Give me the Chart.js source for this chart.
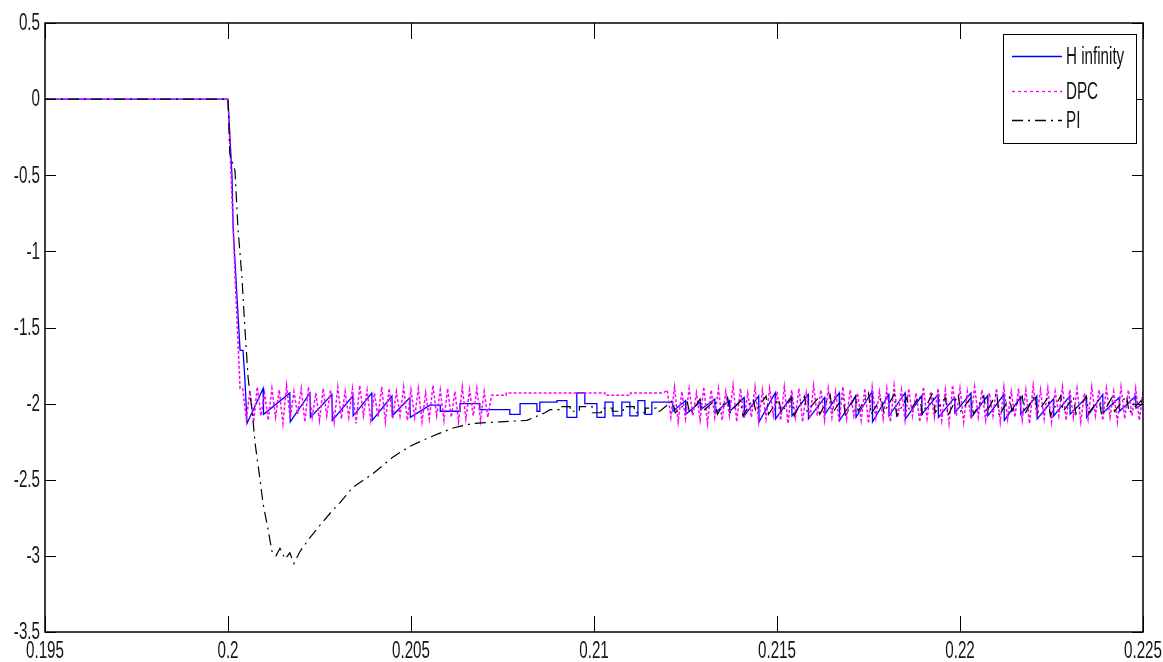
<!DOCTYPE html>
<html>
<head>
<meta charset="utf-8">
<title>H infinity / DPC / PI</title>
<script src="https://cdn.jsdelivr.net/npm/chart.js@4.4.1/dist/chart.umd.min.js"></script>
<style>
  html, body { margin: 0; padding: 0; background: #fff; }
  #wrap { width: 1163px; height: 662px; }
</style>
</head>
<body>
<div id="wrap"><canvas id="chart" width="1163" height="662"></canvas></div>
<script>
// Axis ranges and tick spacing
const xTicks = [0.195, 0.2, 0.205, 0.21, 0.215, 0.22, 0.225];
const yTicks = [0.5, 0, -0.5, -1, -1.5, -2, -2.5, -3, -3.5];

// H infinity (solid blue)
const hTime = [
  0.195, 0.2, 0.20003, 0.20011, 0.20014, 0.20025, 0.20033, 0.20041, 0.20046, 0.20052,
  0.20096, 0.20097, 0.20169, 0.20170, 0.20224, 0.20225, 0.20284, 0.20285, 0.20341, 0.20342,
  0.20393, 0.20394, 0.20448, 0.20449, 0.20497, 0.20498,
  0.20552, 0.20580, 0.20580, 0.20634, 0.20634, 0.20688, 0.20688, 0.20770, 0.20770, 0.20798,
  0.20798, 0.20844, 0.20844, 0.20852, 0.20852, 0.20899, 0.20899, 0.20926, 0.20926, 0.20953,
  0.20953, 0.20975, 0.20975, 0.21008, 0.21008, 0.21030, 0.21030, 0.21052, 0.21052, 0.21076,
  0.21076, 0.21098, 0.21098, 0.21120, 0.21120, 0.21139, 0.21139, 0.21158, 0.21158, 0.21180,
  0.21215, 0.21216, 0.21250, 0.21251, 0.21290, 0.21291, 0.21330, 0.21331, 0.21370, 0.21371,
  0.21410, 0.21411, 0.21450, 0.21451, 0.21495, 0.21496, 0.21540, 0.21541, 0.21585, 0.21586,
  0.21630, 0.21631, 0.21670, 0.21671, 0.21715, 0.21716, 0.21760, 0.21761, 0.21805, 0.21806,
  0.21850, 0.21851, 0.21895, 0.21896, 0.21940, 0.21941, 0.21985, 0.21986, 0.22030, 0.22031,
  0.22075, 0.22076, 0.22120, 0.22121, 0.22165, 0.22166, 0.22210, 0.22211, 0.22255, 0.22256,
  0.22300, 0.22301, 0.22345, 0.22346, 0.22390, 0.22391, 0.22435, 0.22436, 0.22480, 0.22481,
  0.225
];
const hValue = [
  0, 0, -0.14, -0.51, -0.84, -1.32, -1.65, -1.65, -1.83, -2.13,
  -1.90, -2.07, -1.93, -2.12, -1.93, -2.09, -1.94, -2.11, -1.95, -2.08,
  -1.93, -2.11, -1.95, -2.08, -1.96, -2.09,
  -2.01, -2.01, -2.05, -2.05, -2.00, -2.00, -2.04, -2.04, -2.07, -2.07,
  -2.00, -2.00, -2.05, -2.05, -1.99, -1.99, -1.98, -1.98, -2.09, -2.09,
  -1.93, -1.93, -2.00, -2.00, -2.09, -2.09, -1.99, -1.99, -2.08, -2.08,
  -1.99, -1.99, -2.08, -2.08, -1.98, -1.98, -2.07, -2.07, -1.99, -1.99,
  -1.99, -2.05, -1.98, -2.07, -1.99, -2.04, -1.97, -2.06, -1.98, -2.05,
  -1.96, -2.08, -1.95, -2.12, -1.93, -2.10, -1.95, -2.08, -1.94, -2.10,
  -1.96, -2.07, -1.93, -2.11, -1.95, -2.09, -1.92, -2.12, -1.94, -2.08,
  -1.93, -2.10, -1.95, -2.07, -1.94, -2.09, -1.96, -2.06, -1.93, -2.09,
  -1.95, -2.08, -1.94, -2.11, -1.96, -2.07, -1.95, -2.10, -1.97, -2.08,
  -1.95, -2.07, -1.96, -2.09, -1.94, -2.06, -1.96, -2.05, -1.95, -2.03,
  -2.00
];

// DPC (dotted magenta): step response, fast chattering, a quiet stretch, chattering again
const dpcHeadTime = [0.195, 0.2, 0.20005, 0.2002, 0.20033];
const dpcHeadValue = [0, 0, -0.3, -1.2, -1.9];
const dpcSampleTime = 0.0001; // fixed solver step of the chattering parts
const dpcBurst1Start = 0.2004;
const dpcBurst1 = [
  -1.90, -2.10, -1.92, -2.12, -1.89, -2.08, -1.93, -2.11, -1.90, -2.09,
  -1.91, -2.13, -1.88, -2.10, -1.92, -2.07, -1.90, -2.12, -1.89, -2.09,
  -1.93, -2.11, -1.90, -2.08, -1.91, -2.12, -1.89, -2.10, -1.92, -2.09,
  -1.90, -2.13, -1.88, -2.08, -1.91, -2.11, -1.93, -2.09, -1.89, -2.12,
  -1.90, -2.10, -1.92, -2.08, -1.89, -2.11, -1.91, -2.09, -1.90, -2.12,
  -1.93, -2.10, -1.88, -2.08, -1.91, -2.11, -1.90, -2.09, -1.92, -2.12,
  -1.89, -2.10, -1.91, -2.08, -1.90, -2.11, -1.92, -2.09
];
const dpcQuietTime = [0.2072, 0.2076, 0.2076, 0.2103, 0.2103, 0.2110, 0.2110, 0.2119];
const dpcQuietValue = [-1.945, -1.945, -1.93, -1.93, -1.945, -1.945, -1.93, -1.93];
const dpcBurst2Start = 0.2120;
const dpcBurst2 = [
  -1.91, -2.09, -1.89, -2.12, -1.92, -2.10, -1.90, -2.08, -1.93, -2.11,
  -1.89, -2.13, -1.91, -2.09, -1.90, -2.11, -1.92, -2.08, -1.88, -2.12,
  -1.90, -2.10, -1.93, -2.09, -1.89, -2.12, -1.91, -2.10, -1.90, -2.08,
  -1.92, -2.11, -1.89, -2.13, -1.91, -2.09, -1.90, -2.12, -1.93, -2.10,
  -1.88, -2.08, -1.91, -2.11, -1.90, -2.09, -1.92, -2.12, -1.89, -2.10,
  -1.91, -2.08, -1.93, -2.11, -1.90, -2.13, -1.89, -2.09, -1.92, -2.10,
  -1.90, -2.12, -1.88, -2.09, -1.91, -2.11, -1.90, -2.08, -1.93, -2.12,
  -1.89, -2.10, -1.92, -2.09, -1.90, -2.11, -1.91, -2.13, -1.88, -2.08,
  -1.90, -2.12, -1.92, -2.10, -1.89, -2.09, -1.91, -2.11, -1.93, -2.08,
  -1.90, -2.12, -1.89, -2.10, -1.92, -2.09, -1.90, -2.11, -1.91, -2.13,
  -1.88, -2.09, -1.91, -2.10, -1.90, -2.12, -1.92, -2.08, -1.89, -2.11,
  -1.91, -2.09, -1.90, -2.12, -1.93, -2.10, -1.89, -2.08, -1.91, -2.11,
  -1.90, -2.09, -1.92, -2.12, -1.89, -2.10, -1.91, -2.08, -1.90, -2.11,
  -1.92
];

// PI (black dash-dot): big undershoot then slow recovery
const piTime = [
  0.195, 0.2, 0.20005, 0.20019, 0.20027, 0.20038, 0.20046, 0.20055, 0.20066, 0.20074,
  0.20087, 0.20096, 0.20109, 0.2012, 0.20131, 0.20142, 0.20156, 0.20169, 0.2018, 0.20197,
  0.20224, 0.20251, 0.20279, 0.20306, 0.20341, 0.20396, 0.20451, 0.20497, 0.20552, 0.20615,
  0.20669, 0.20743, 0.20817, 0.20866,
  0.2088, 0.20905, 0.20905, 0.20935, 0.20935, 0.2096, 0.2096, 0.20995, 0.20995, 0.2102,
  0.2102, 0.2105, 0.2105, 0.2108, 0.2108, 0.2111, 0.2111, 0.2114, 0.2114, 0.2117,
  0.2117, 0.2118,
  0.21215, 0.21222, 0.21255, 0.21262, 0.21290, 0.21297, 0.21330, 0.21337, 0.21365, 0.21372,
  0.21400, 0.21407, 0.21435, 0.21442, 0.21470, 0.21477, 0.21505, 0.21512, 0.21540, 0.21547,
  0.21575, 0.21582, 0.21610, 0.21617, 0.21645, 0.21652, 0.21680, 0.21687, 0.21715, 0.21722,
  0.21750, 0.21757, 0.21785, 0.21792, 0.21820, 0.21827, 0.21855, 0.21862, 0.21890, 0.21897,
  0.21925, 0.21932, 0.21960, 0.21967, 0.21995, 0.22002, 0.22030, 0.22037, 0.22065, 0.22072,
  0.22100, 0.22107, 0.22135, 0.22142, 0.22170, 0.22177, 0.22205, 0.22212, 0.22240, 0.22247,
  0.22275, 0.22282, 0.22310, 0.22317, 0.22345, 0.22352, 0.22380, 0.22387, 0.22415, 0.22422,
  0.22455, 0.22462, 0.22495, 0.225
];
const piValue = [
  0, 0, -0.36, -0.47, -0.84, -1.17, -1.5, -1.83, -2.05, -2.26,
  -2.49, -2.66, -2.82, -2.97, -3.0, -2.95, -3.02, -2.98, -3.05, -2.97,
  -2.88, -2.8, -2.72, -2.65, -2.55, -2.46, -2.35, -2.28, -2.22, -2.16,
  -2.13, -2.12, -2.11, -2.06,
  -2.04, -2.04, -2.02, -2.02, -2.05, -2.05, -2.02, -2.02, -2.06, -2.06,
  -2.03, -2.03, -2.05, -2.05, -2.02, -2.02, -2.06, -2.06, -2.03, -2.03,
  -2.05, -2.05,
  -1.98, -2.06, -1.99, -2.07, -1.97, -2.05, -1.98, -2.07, -1.96, -2.06,
  -1.98, -2.08, -1.97, -2.05, -1.95, -2.07, -1.97, -2.06, -1.96, -2.08,
  -1.95, -2.05, -1.97, -2.07, -1.94, -2.06, -1.96, -2.08, -1.95, -2.05,
  -1.93, -2.07, -1.96, -2.06, -1.94, -2.08, -1.96, -2.05, -1.95, -2.07,
  -1.93, -2.06, -1.96, -2.08, -1.94, -2.05, -1.96, -2.07, -1.95, -2.06,
  -1.93, -2.08, -1.96, -2.05, -1.95, -2.07, -1.94, -2.06, -1.96, -2.08,
  -1.95, -2.05, -1.96, -2.07, -1.95, -2.06, -1.97, -2.08, -1.96, -2.05,
  -1.95, -2.06, -1.98, -2.02
];

const seriesLabels = ['H infinity', 'DPC', 'PI'];
const seriesColors = ['#0000ff', '#ff00ff', '#000000'];
const seriesDash = [[], [3, 2], [11, 5, 2, 5]];

function zipPoints(times, values) {
  const n = Math.min(times.length, values.length);
  const pts = [];
  for (let i = 0; i < n; i++) pts.push({ x: times[i], y: values[i] });
  return pts;
}

function burstPoints(start, values) {
  return values.map((v, i) => ({ x: +(start + i * dpcSampleTime).toFixed(5), y: v }));
}

const hPoints = zipPoints(hTime, hValue);
const dpcPoints = zipPoints(dpcHeadTime, dpcHeadValue)
  .concat(burstPoints(dpcBurst1Start, dpcBurst1))
  .concat(zipPoints(dpcQuietTime, dpcQuietValue))
  .concat(burstPoints(dpcBurst2Start, dpcBurst2));
const piPoints = zipPoints(piTime, piValue);

// The figure uses a tall, narrow sans face; squeeze Liberation Sans to match
const FONT = '23px "Liberation Sans", Arial, sans-serif';
const SQUEEZE = 0.66;
const tickLabel = (v) => String(+(+v).toFixed(4));

function squeezedText(ctx, text, x, y, align) {
  ctx.save();
  ctx.translate(x, y);
  ctx.scale(SQUEEZE, 1);
  ctx.textAlign = align;
  ctx.fillText(text, 0, 0);
  ctx.restore();
}

// MATLAB-like box with inward ticks on all four sides, tick labels and a boxed legend
const matlabAxes = {
  id: 'matlabAxes',
  afterDraw(chart) {
    const { ctx, chartArea: a, scales: { x, y } } = chart;
    ctx.save();
    ctx.strokeStyle = '#000';
    ctx.lineWidth = 1;
    ctx.setLineDash([]);
    ctx.beginPath();
    x.ticks.forEach((t) => {
      const px = Math.round(x.getPixelForValue(t.value)) + 0.5;
      ctx.moveTo(px, a.bottom); ctx.lineTo(px, a.bottom - 16);
      ctx.moveTo(px, a.top); ctx.lineTo(px, a.top + 16);
    });
    y.ticks.forEach((t) => {
      const py = Math.round(y.getPixelForValue(t.value)) + 0.5;
      ctx.moveTo(a.left, py); ctx.lineTo(a.left + 11, py);
      ctx.moveTo(a.right, py); ctx.lineTo(a.right - 11, py);
    });
    ctx.stroke();
    ctx.lineWidth = 1.5;
    ctx.strokeRect(a.left, a.top, a.right - a.left, a.bottom - a.top);

    // tick labels
    ctx.font = FONT;
    ctx.fillStyle = '#151515';
    ctx.textBaseline = 'middle';
    x.ticks.forEach((t) => {
      squeezedText(ctx, tickLabel(t.value), x.getPixelForValue(t.value), a.bottom + 20, 'center');
    });
    y.ticks.forEach((t) => {
      squeezedText(ctx, tickLabel(t.value), a.left - 5, y.getPixelForValue(t.value) + 1, 'right');
    });

    // legend box in the upper right corner
    const box = { left: a.right - 140, top: a.top + 11, width: 133, height: 109 };
    ctx.fillStyle = '#fff';
    ctx.fillRect(box.left, box.top, box.width, box.height);
    ctx.lineWidth = 1;
    ctx.strokeStyle = '#000';
    ctx.strokeRect(box.left + 0.5, box.top + 0.5, box.width, box.height);
    const rows = [22, 57, 86];
    chart.data.datasets.forEach((ds, i) => {
      const yy = box.top + rows[i] + 0.5;
      ctx.strokeStyle = ds.borderColor;
      ctx.lineWidth = 1.3;
      ctx.setLineDash(i === 1 ? [3, 3] : ds.borderDash);
      ctx.beginPath();
      ctx.moveTo(box.left + 9, yy);
      ctx.lineTo(box.left + 59, yy);
      ctx.stroke();
      ctx.setLineDash([]);
      ctx.fillStyle = '#111';
      squeezedText(ctx, ds.label, box.left + 63, yy + 1, 'left');
    });
    ctx.restore();
  }
};

new Chart(document.getElementById('chart').getContext('2d'), {
  type: 'line',
  data: {
    datasets: [
      { label: seriesLabels[0], data: hPoints, borderColor: seriesColors[0], borderWidth: 1.3, borderDash: seriesDash[0], order: 3 },
      { label: seriesLabels[1], data: dpcPoints, borderColor: seriesColors[1], borderWidth: 1.5, borderDash: seriesDash[1], order: 2 },
      { label: seriesLabels[2], data: piPoints, borderColor: seriesColors[2], borderWidth: 1.2, borderDash: seriesDash[2], order: 1 }
    ]
  },
  options: {
    responsive: false,
    animation: false,
    elements: { point: { radius: 0 }, line: { tension: 0, fill: false } },
    layout: { padding: { top: 23, right: 20, left: 0, bottom: 0 } },
    plugins: { legend: { display: false }, tooltip: { enabled: false } },
    scales: {
      x: {
        type: 'linear',
        min: xTicks[0],
        max: xTicks[xTicks.length - 1],
        afterBuildTicks: (scale) => { scale.ticks = xTicks.map((v) => ({ value: v })); },
        afterFit: (scale) => { scale.height = 30; },
        grid: { display: false, drawTicks: false },
        border: { display: false },
        ticks: { display: false }
      },
      y: {
        type: 'linear',
        min: yTicks[yTicks.length - 1],
        max: yTicks[0],
        afterBuildTicks: (scale) => { scale.ticks = yTicks.slice().reverse().map((v) => ({ value: v })); },
        afterFit: (scale) => { scale.width = 45; },
        grid: { display: false, drawTicks: false },
        border: { display: false },
        ticks: { display: false }
      }
    }
  },
  plugins: [matlabAxes]
});
</script>
</body>
</html>
